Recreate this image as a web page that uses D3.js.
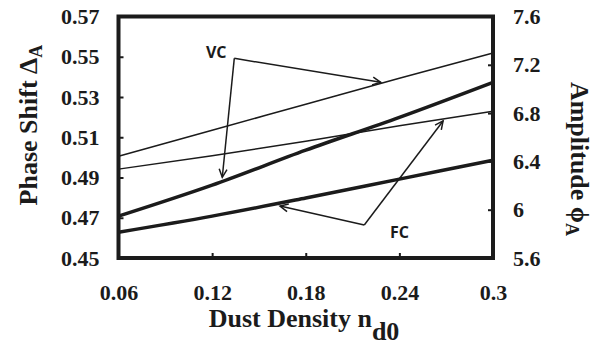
<!DOCTYPE html>
<html><head><meta charset="utf-8">
<script src="https://cdn.jsdelivr.net/npm/d3@7"></script>
<style>body{margin:0;background:#fff}svg{display:block}</style></head>
<body><svg id="c" width="603" height="354"></svg>
<script>
// ---- data ----
const xValues = [0.06, 0.12, 0.18, 0.24, 0.3];
const xTicks = [0.06, 0.12, 0.18, 0.24, 0.3];
const xTickLabels = ["0.06", "0.12", "0.18", "0.24", "0.3"];
const leftTicks = [0.45, 0.47, 0.49, 0.51, 0.53, 0.55, 0.57];
const leftTickLabels = ["0.45", "0.47", "0.49", "0.51", "0.53", "0.55", "0.57"];
const rightTicks = [5.6, 6, 6.4, 6.8, 7.2, 7.6];
const rightTickLabels = ["5.6", "6", "6.4", "6.8", "7.2", "7.6"];
// Phase shift (left axis, thick lines)
const phaseVC = [0.4708, 0.4862, 0.5036, 0.5199, 0.5373];
const phaseFC = [0.4628, 0.4708, 0.4798, 0.4892, 0.4986];
// Amplitude (right axis, thin lines)
const ampVC = [6.443, 6.658, 6.873, 7.088, 7.298];
const ampFC = [6.336, 6.447, 6.567, 6.695, 6.815];
// annotations, in (x, left-axis) data units
const vcLabel = [0.1160, 0.5496];
const vcOrigin = [0.1342, 0.5492];
const vcTips = [[0.228, 0.5373], [0.1265, 0.4901]];
const fcLabel = [0.234, 0.4599];
const fcOrigin = [0.2175, 0.4664];
const fcTips = [[0.1635, 0.4758], [0.268, 0.5181]];

// ---- layout ----
const L = 118.5, R = 493, T = 16.5, B = 258;
const svg = d3.select("#c");
const x = d3.scaleLinear().domain([0.06, 0.3]).range([L, R]);
const yL = d3.scaleLinear().domain([0.45, 0.57]).range([B, T]);
const yR = d3.scaleLinear().domain([5.6, 7.6]).range([B, T]);
const ink = "#1b1b1b";
const serif = "'Liberation Serif','Times New Roman',serif";
const sans = "'Open Sans','Liberation Sans',sans-serif";

// series lines
const lineL = d3.line().curve(d3.curveMonotoneX).x((d, i) => x(xValues[i])).y(d => yL(d));
const lineR = d3.line().curve(d3.curveMonotoneX).x((d, i) => x(xValues[i])).y(d => yR(d));
const g = svg.append("g");
[[ampVC, lineR, 1.5], [ampFC, lineR, 1.5], [phaseVC, lineL, 3.5], [phaseFC, lineL, 3.5]].forEach(([d, ln, w]) => {
  g.append("path").attr("d", ln(d)).attr("fill", "none").attr("stroke", ink)
    .attr("stroke-width", w).attr("stroke-linejoin", "round");
});

// axes (inward ticks)
const axL = d3.axisLeft(yL).tickValues(leftTicks).tickFormat((d, i) => leftTickLabels[i]).tickSize(-5).tickPadding(19);
const axR = d3.axisRight(yR).tickValues(rightTicks).tickFormat((d, i) => rightTickLabels[i]).tickSize(-5).tickPadding(20);
const axB = d3.axisBottom(x).tickValues(xTicks).tickFormat((d, i) => xTickLabels[i]).tickSize(-5).tickPadding(26);
function styleAxis(sel) {
  sel.select(".domain").remove();
  sel.selectAll(".tick line").attr("stroke", ink).attr("stroke-width", 2);
  sel.selectAll(".tick text").attr("fill", ink).style("font-family", serif)
    .style("font-size", "22px").style("font-weight", "bold");
}
svg.append("g").attr("transform", `translate(${L},0)`).call(axL).call(styleAxis);
svg.append("g").attr("transform", `translate(${R},0)`).call(axR).call(styleAxis);
const gb = svg.append("g").attr("transform", `translate(0,${B})`).call(axB).call(styleAxis);
gb.selectAll(".tick text").attr("dy", null).attr("y", 42);

// frame
svg.append("rect").attr("x", L).attr("y", T).attr("width", R - L).attr("height", B - T)
  .attr("fill", "none").attr("stroke", ink).attr("stroke-width", 4);

// annotations
function arrow(o, t) {
  const x0 = x(o[0]), y0 = yL(o[1]), x1 = x(t[0]), y1 = yL(t[1]);
  const a = Math.atan2(y1 - y0, x1 - x0), hl = 9, ha = 0.45;
  svg.append("line").attr("x1", x0).attr("y1", y0).attr("x2", x1).attr("y2", y1)
    .attr("stroke", ink).attr("stroke-width", 1.5);
  const p = [[x1 - hl * Math.cos(a - ha), y1 - hl * Math.sin(a - ha)], [x1, y1],
             [x1 - hl * Math.cos(a + ha), y1 - hl * Math.sin(a + ha)]];
  svg.append("path").attr("d", d3.line()(p)).attr("fill", "none").attr("stroke", ink)
    .attr("stroke-width", 1.5).attr("stroke-linejoin", "miter");
}
vcTips.forEach(t => arrow(vcOrigin, t));
fcTips.forEach(t => arrow(fcOrigin, t));
svg.append("text").attr("x", x(vcLabel[0])).attr("y", yL(vcLabel[1])).text("VC")
  .attr("fill", ink).style("font-family", sans).style("font-size", "16px").style("font-weight", "bold");
svg.append("text").attr("x", x(fcLabel[0])).attr("y", yL(fcLabel[1])).text("FC")
  .attr("fill", ink).style("font-family", sans).style("font-size", "16px").style("font-weight", "bold");

// axis titles
const tb = svg.append("text").attr("x", 304).attr("y", 327).attr("text-anchor", "middle")
  .attr("fill", ink).style("font-family", serif).style("font-size", "26px").style("font-weight", "bold");
tb.append("tspan").text("Dust Density n");
tb.append("tspan").attr("dy", 13).text("d0");

const tl = svg.append("text").attr("transform", "translate(37,125) rotate(-90)").attr("text-anchor", "middle")
  .attr("fill", ink).style("font-family", serif).style("font-size", "26px").style("font-weight", "bold");
tl.append("tspan").text("Phase Shift Δ");
tl.append("tspan").attr("dy", 5).style("font-size", "18px").text("A");

const tr = svg.append("text").attr("transform", "translate(571,159) rotate(90)").attr("text-anchor", "middle")
  .attr("fill", ink).style("font-family", serif).style("font-size", "26px").style("font-weight", "bold");
tr.append("tspan").text("Amplitude ϕ");
tr.append("tspan").attr("dy", 5).style("font-size", "18px").text("A");
</script></body></html>
